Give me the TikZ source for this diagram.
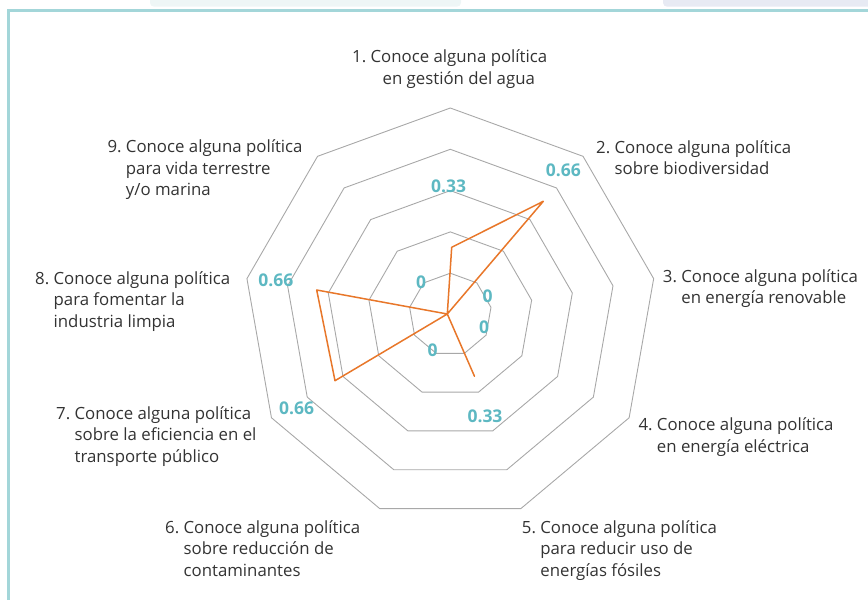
\documentclass[tikz,border=0pt]{standalone}
\usepackage{fontspec}
\setmainfont{Open Sans}
\usetikzlibrary{shapes.geometric}
\definecolor{naranja}{HTML}{E8772A}
\definecolor{turquesa}{HTML}{5DB8C2}
\definecolor{gris}{HTML}{A8A8A8}
\definecolor{texto}{HTML}{333333}
\definecolor{marcoazul}{HTML}{A3D6D9}
\definecolor{tenueverde}{HTML}{EEF6F6}
\definecolor{tenueazul}{HTML}{E7EAF3}
\begin{document}
\begin{tikzpicture}[x=1pt, y=-1pt,
    anillo/.style={draw=gris, line width=0.9pt, regular polygon, regular polygon sides=9, inner sep=0pt, outer sep=0pt},
    serie/.style={draw=naranja, line width=1.5pt, line join=round},
    valor/.style={text=turquesa, inner sep=0pt, font=\fontsize{17.5}{17.5}\selectfont\bfseries},
    etiqueta/.style={anchor=base west, inner sep=0pt, text=texto, font=\fontsize{16.8}{21.5}\selectfont}]
    \useasboundingbox (0,0) rectangle (868,600);

    % fondo y marco
    \fill[tenueverde, rounded corners=4pt] (150,-6) rectangle (461,6.7);
    \fill[tenueazul, rounded corners=4pt] (663,-6) rectangle (880,6.7);
    \draw[marcoazul, line width=2.5pt] (8.7,610) -- (8.7,10.7) -- (880,10.7);

    % anillos
    \coordinate (c) at (450.3,314.5);
    \foreach \r in {1,...,5}
        \node[anillo, minimum size=2*41.3*\r] (anillo\r) at (c) {};

    % serie
    \coordinate (d0) at (447.3,314);
    \coordinate (d1) at (451.7,247.3);
    \coordinate (d2) at (543.3,201.3);
    \coordinate (d5) at (474.5,376.3);
    \coordinate (d7) at (335,380.7);
    \coordinate (d8) at (316.7,290);
    \draw[serie] (d1) -- (d2) -- (d0) -- (d5) -- (d0) -- (d7) -- (d8) -- (d0) -- cycle;

    % valores
    \node[valor] (v1) at (448.7,186.7) {0.33};
    \node[valor] (v2) at (563.3,170.3) {0.66};
    \node[valor] (v3) at (487.5,296.7) {0};
    \node[valor] (v4) at (484,327.2) {0};
    \node[valor] (v5) at (485,416.7) {0.33};
    \node[valor] (v6) at (432.7,350.3) {0};
    \node[valor] (v7) at (296.7,408.3) {0.66};
    \node[valor] (v8) at (275.8,280.7) {0.66};
    \node[valor] (v9) at (421,282.3) {0};

    % etiquetas
    \node[etiqueta] (e1) at (352,62.7) {\begin{tabular}[t]{@{}l@{~}l@{}}1.&Conoce alguna política\\&\hspace*{12pt}en gestión del agua\end{tabular}};
    \node[etiqueta] (e2) at (596,153.3) {\begin{tabular}[t]{@{}l@{~}l@{}}2.&Conoce alguna política\\&sobre biodiversidad\end{tabular}};
    \node[etiqueta] (e3) at (662.7,282) {\begin{tabular}[t]{@{}l@{~}l@{}}3.&Conoce alguna política\\&en energía renovable\end{tabular}};
    \node[etiqueta] (e4) at (638.3,430.7) {\begin{tabular}[t]{@{}l@{~}l@{}}4.&Conoce alguna política\\&en energía eléctrica\end{tabular}};
    \node[etiqueta] (e5) at (521.7,533.3) {\begin{tabular}[t]{@{}l@{~}l@{}}5.&Conoce alguna política\\&para reducir uso de\\&energías fósiles\end{tabular}};
    \node[etiqueta] (e6) at (165,533.3) {\begin{tabular}[t]{@{}l@{~}l@{}}6.&Conoce alguna política\\&sobre reducción de\\&contaminantes\end{tabular}};
    \node[etiqueta] (e7) at (56,419.3) {\begin{tabular}[t]{@{}l@{~}l@{}}7.&Conoce alguna política\\&sobre la eficiencia en el\\&transporte público\end{tabular}};
    \node[etiqueta] (e8) at (35,284) {\begin{tabular}[t]{@{}l@{~}l@{}}8.&Conoce alguna política\\&para fomentar la\\&industria limpia\end{tabular}};
    \node[etiqueta] (e9) at (107.3,152.7) {\begin{tabular}[t]{@{}l@{~}l@{}}9.&Conoce alguna política\\&para vida terrestre\\&y/o marina\end{tabular}};
\end{tikzpicture}
\end{document}
